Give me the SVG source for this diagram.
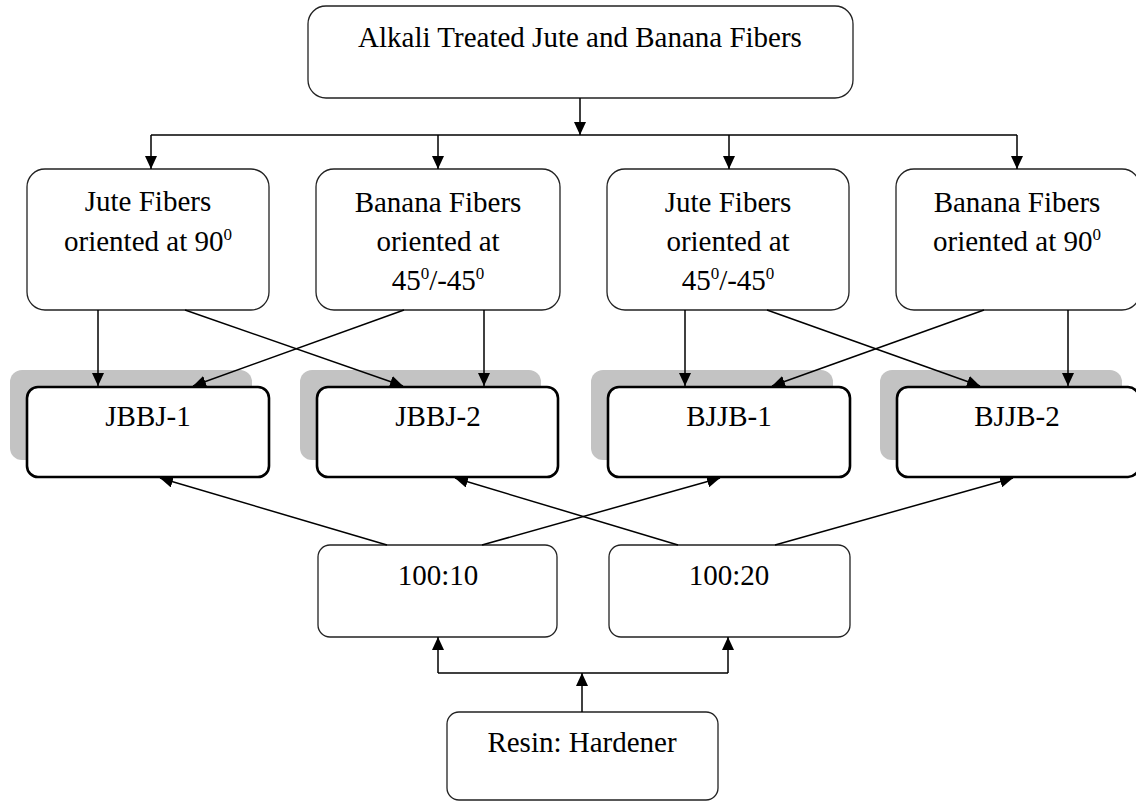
<svg xmlns="http://www.w3.org/2000/svg" width="1136" height="802" viewBox="0 0 1136 802">
<style>
.box{fill:#fff;stroke:#222;stroke-width:1.3}
.bold{fill:#fff;stroke:#000;stroke-width:2.6}
.shadow{fill:#c3c3c3;stroke:none}
text{font-family:"Liberation Serif","Times New Roman",serif;font-size:29px;fill:#000;text-anchor:middle}
.sup{font-size:17px}
.conn{stroke:#000;stroke-width:1.5;fill:none}
</style>
<defs>
<marker id="ah" markerUnits="userSpaceOnUse" markerWidth="14" markerHeight="12" refX="13" refY="6" orient="auto">
<path d="M0,0 L13,6 L0,12 z" fill="#000"/>
</marker>
</defs>
<rect width="1136" height="802" fill="#fff"/>

<g id="top">
<rect class="box" x="308" y="6" width="545" height="92" rx="18"/>
<text x="580" y="47">Alkali Treated Jute and Banana Fibers</text>
</g>

<g id="jute90">
<rect class="box" x="27" y="169" width="242" height="141" rx="18"/>
<text x="148" y="211">Jute Fibers</text>
<text x="148" y="251">oriented at 90<tspan class="sup" dy="-11">0</tspan></text>
</g>
<g id="banana45">
<rect class="box" x="316" y="169" width="244" height="141" rx="18"/>
<text x="438" y="212">Banana Fibers</text>
<text x="438" y="251">oriented at</text>
<text x="438" y="290">45<tspan class="sup" dy="-11">0</tspan><tspan dy="11">/-45</tspan><tspan class="sup" dy="-11">0</tspan></text>
</g>
<g id="jute45">
<rect class="box" x="607" y="169" width="242" height="141" rx="18"/>
<text x="728" y="212">Jute Fibers</text>
<text x="728" y="251">oriented at</text>
<text x="728" y="290">45<tspan class="sup" dy="-11">0</tspan><tspan dy="11">/-45</tspan><tspan class="sup" dy="-11">0</tspan></text>
</g>
<g id="banana90">
<rect class="box" x="896" y="169" width="244" height="141" rx="18"/>
<text x="1017" y="212">Banana Fibers</text>
<text x="1017" y="251">oriented at 90<tspan class="sup" dy="-11">0</tspan></text>
</g>

<g id="jbbj1">
<rect class="shadow" x="10" y="370" width="242" height="90" rx="12"/>
<rect class="bold" x="27" y="387" width="242" height="90" rx="11"/>
<text x="148" y="426">JBBJ-1</text>
</g>
<g id="jbbj2">
<rect class="shadow" x="300" y="370" width="241" height="90" rx="12"/>
<rect class="bold" x="317" y="387" width="241" height="90" rx="11"/>
<text x="438" y="426">JBBJ-2</text>
</g>
<g id="bjjb1">
<rect class="shadow" x="591" y="370" width="242" height="90" rx="12"/>
<rect class="bold" x="608" y="387" width="242" height="90" rx="11"/>
<text x="729" y="426">BJJB-1</text>
</g>
<g id="bjjb2">
<rect class="shadow" x="880" y="370" width="242" height="90" rx="12"/>
<rect class="bold" x="897" y="387" width="242" height="90" rx="11"/>
<text x="1017" y="426">BJJB-2</text>
</g>

<g id="r10">
<rect class="box" x="318" y="545" width="239" height="92" rx="12"/>
<text x="438" y="585">100:10</text>
</g>
<g id="r20">
<rect class="box" x="609" y="545" width="241" height="92" rx="12"/>
<text x="729" y="585">100:20</text>
</g>
<g id="resin">
<rect class="box" x="447" y="712" width="271" height="88" rx="12"/>
<text x="582" y="752">Resin: Hardener</text>
</g>

<g id="connectors">
<path class="conn" d="M580,98 V135" marker-end="url(#ah)"/>
<path class="conn" d="M151,135 H1017"/>
<path class="conn" d="M151,135 V169" marker-end="url(#ah)"/>
<path class="conn" d="M438,135 V169" marker-end="url(#ah)"/>
<path class="conn" d="M729,135 V169" marker-end="url(#ah)"/>
<path class="conn" d="M1017,135 V169" marker-end="url(#ah)"/>

<path class="conn" d="M98,310 V386" marker-end="url(#ah)"/>
<path class="conn" d="M185,310 L403,386" marker-end="url(#ah)"/>
<path class="conn" d="M404,310 L193,386" marker-end="url(#ah)"/>
<path class="conn" d="M484,310 V386" marker-end="url(#ah)"/>
<path class="conn" d="M685,310 V386" marker-end="url(#ah)"/>
<path class="conn" d="M767,310 L980,386" marker-end="url(#ah)"/>
<path class="conn" d="M984,310 L772,386" marker-end="url(#ah)"/>
<path class="conn" d="M1068,310 V386" marker-end="url(#ah)"/>

<path class="conn" d="M387,545 L160,478" marker-end="url(#ah)"/>
<path class="conn" d="M482,545 L720,478" marker-end="url(#ah)"/>
<path class="conn" d="M678,545 L455,478" marker-end="url(#ah)"/>
<path class="conn" d="M775,545 L1013,478" marker-end="url(#ah)"/>

<path class="conn" d="M582,712 V673" marker-end="url(#ah)"/>
<path class="conn" d="M438,673 H728"/>
<path class="conn" d="M438,673 V637" marker-end="url(#ah)"/>
<path class="conn" d="M728,673 V637" marker-end="url(#ah)"/>
</g>
</svg>
